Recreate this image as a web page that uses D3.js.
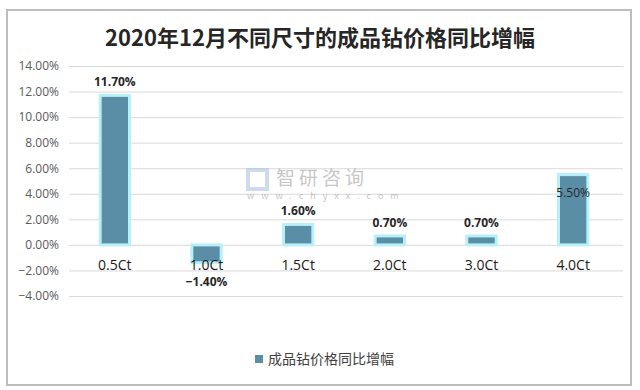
<!DOCTYPE html>
<html>
<head>
<meta charset="utf-8">
<script src="https://cdn.jsdelivr.net/npm/d3@7"></script>
<style>
  body { margin: 0; background: #fff; }
  text { font-family: "Noto Sans CJK SC", "Noto Sans", sans-serif; }
</style>
</head>
<body>
<div id="chart"></div>
<script>
// data
var categories = ["0.5Ct", "1.0Ct", "1.5Ct", "2.0Ct", "3.0Ct", "4.0Ct"];
var values = [11.7, -1.4, 1.6, 0.7, 0.7, 5.5];
var yTicks = [-4, -2, 0, 2, 4, 6, 8, 10, 12, 14];
var seriesName = "成品钻价格同比增幅";
var title = "2020年12月不同尺寸的成品钻价格同比增幅";

var width = 640, height = 390;
var margin = { top: 66, left: 69, right: 21, bottom: 94 };

var svg = d3.select("#chart").append("svg")
    .attr("width", width)
    .attr("height", height);

// outer frame
svg.append("rect")
    .attr("x", 7).attr("y", 10)
    .attr("width", 624).attr("height", 375)
    .attr("fill", "#fff")
    .attr("stroke", "#bdbdbd")
    .attr("stroke-width", 2);

svg.append("text")
    .attr("x", 320).attr("y", 46)
    .attr("text-anchor", "middle")
    .style("font-size", "22px")
    .style("font-weight", "bold")
    .style("fill", "#262626")
    .text(title);

var x = d3.scaleBand()
    .domain(categories)
    .range([margin.left, width - margin.right])
    .paddingInner(0.68)
    .paddingOuter(0.34);

var y = d3.scaleLinear()
    .domain([-4, 14])
    .range([296, 66]);

// gridlines + tick labels
var yAxis = svg.append("g")
    .attr("transform", "translate(" + margin.left + ",0)")
    .call(d3.axisLeft(y).tickValues(yTicks)
        .tickSize(-(width - margin.left - margin.right + 4))
        .tickPadding(10)
        .tickFormat(function (d) { return d3.format(".2f")(d) + "%"; }));
yAxis.select(".domain").remove();
yAxis.selectAll(".tick line").attr("stroke", "#d9d9d9");
yAxis.selectAll(".tick text")
    .style("font-size", "12px")
    .style("fill", "#595959")
    .style("font-family", "'Open Sans', 'Noto Sans', sans-serif");

// watermark
var wm = svg.append("g").attr("opacity", 0.55);
wm.append("rect").attr("x", 248).attr("y", 170).attr("width", 19).attr("height", 19)
    .attr("fill", "none").attr("stroke", "#a9bde0").attr("stroke-width", 4);
wm.append("text").attr("x", 276).attr("y", 185)
    .style("font-size", "19px").style("fill", "#9a9a9a")
    .style("letter-spacing", "4px")
    .text("智研咨询");
wm.append("text").attr("x", 247).attr("y", 199)
    .style("font-size", "9px").style("fill", "#9a9a9a")
    .style("letter-spacing", "7px")
    .text("www.chyxx.com");

// bars with light glow outline
var bars = svg.selectAll(".bar")
    .data(values)
    .enter().append("g")
    .attr("class", "bar");

bars.append("rect")
    .attr("x", function (d, i) { return x(categories[i]); })
    .attr("y", function (d) { return y(Math.max(0, d)); })
    .attr("width", x.bandwidth())
    .attr("height", function (d) { return Math.abs(y(d) - y(0)); })
    .attr("fill", "#5a8ea7")
    .attr("stroke", "#b8f0f8")
    .attr("stroke-width", 3);

// category labels sit just under zero line
svg.selectAll(".cat")
    .data(categories)
    .enter().append("text")
    .attr("x", function (d) { return x(d) + x.bandwidth() / 2; })
    .attr("y", y(0) + 25)
    .attr("text-anchor", "middle")
    .style("font-size", "14px")
    .style("fill", "#1a1a1a")
    .style("font-family", "'Open Sans', 'Noto Sans', sans-serif")
    .text(function (d) { return d; });

// value labels
svg.selectAll(".val")
    .data(values)
    .enter().append("text")
    .attr("x", function (d, i) { return x(categories[i]) + x.bandwidth() / 2; })
    .attr("y", function (d, i) {
        if (i == 5) return y(d) + 22;
        return d < 0 ? y(d) + 23 : y(d) - 9;
    })
    .attr("text-anchor", "middle")
    .style("font-size", "12px")
    .style("font-weight", function (d, i) { return i == 5 ? "normal" : "bold"; })
    .style("fill", "#262626")
    .style("font-family", "'Open Sans', 'Noto Sans', sans-serif")
    .text(function (d) { return d3.format(".2f")(d) + "%"; });

// legend
var legend = svg.append("g").attr("transform", "translate(255,354)");
legend.append("rect").attr("width", 8).attr("height", 8).attr("y", 1).attr("fill", "#5a8ea7");
legend.append("text").attr("x", 13).attr("y", 10)
    .style("font-size", "14px")
    .style("fill", "#404040")
    .text(seriesName);
</script>
</body>
</html>
